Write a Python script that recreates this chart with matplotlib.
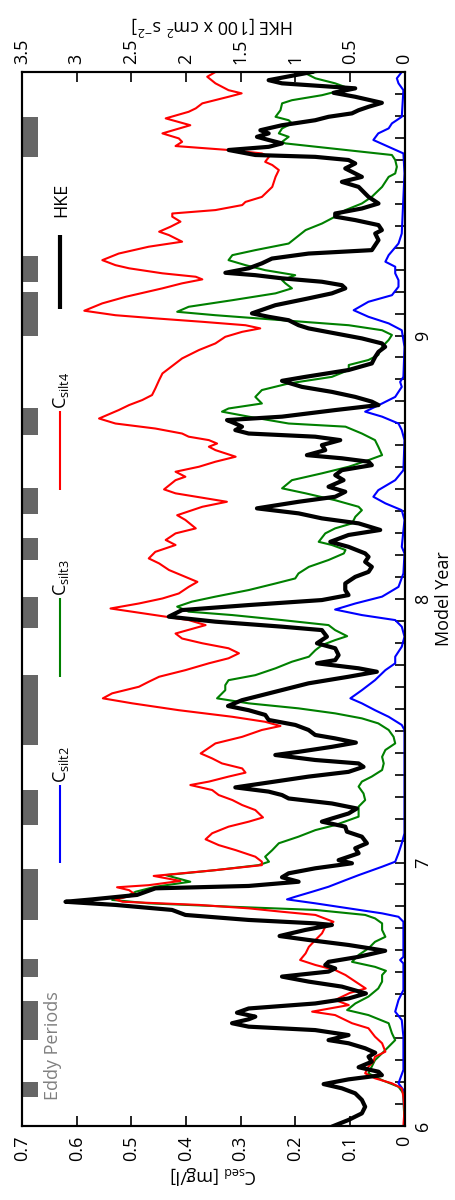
import matplotlib.pyplot as plt
from matplotlib.ticker import MultipleLocator, FixedLocator, FuncFormatter

# model year (descending) and concentration / energy
SILT4_YEAR = [
    10.000, 9.982, 9.957, 9.931, 9.919, 9.906, 9.881, 9.862, 9.849, 9.824,
    9.798, 9.767, 9.748, 9.735, 9.719, 9.704, 9.691, 9.678, 9.659, 9.647,
    9.628, 9.602, 9.564, 9.526, 9.507, 9.495, 9.476, 9.463, 9.451, 9.432,
    9.413, 9.394, 9.381, 9.356, 9.337, 9.311, 9.286, 9.267, 9.255, 9.236,
    9.223, 9.213, 9.198, 9.179, 9.147, 9.122, 9.094, 9.077, 9.065, 9.052,
    9.039, 9.027, 9.014, 8.995, 8.970, 8.945, 8.913, 8.894, 8.875, 8.856,
    8.831, 8.799, 8.774, 8.755, 8.736, 8.717, 8.685, 8.666, 8.647, 8.628,
    8.616, 8.603, 8.590, 8.578, 8.565, 8.540, 8.521, 8.502, 8.483, 8.464,
    8.451, 8.416, 8.401, 8.369, 8.350, 8.318, 8.300, 8.268, 8.249, 8.224,
    8.205, 8.179, 8.154, 8.135, 8.110, 8.084, 8.065, 8.046, 8.021, 8.002,
    7.983, 7.964, 7.939, 7.920, 7.901, 7.869, 7.850, 7.832, 7.813, 7.794,
    7.775, 7.756, 7.730, 7.705, 7.686, 7.667, 7.642, 7.623, 7.604, 7.578,
    7.553, 7.534, 7.518, 7.503, 7.477, 7.452, 7.414, 7.395, 7.376, 7.357,
    7.341, 7.326, 7.307, 7.294, 7.275, 7.256, 7.237, 7.218, 7.199, 7.171,
    7.155, 7.136, 7.111, 7.088, 7.066, 7.047, 7.022, 7.003, 6.990, 6.971,
    6.949, 6.930, 6.914, 6.906, 6.895, 6.877, 6.860, 6.851, 6.839, 6.826,
    6.813, 6.801, 6.775, 6.756, 6.731, 6.706, 6.680, 6.655, 6.630, 6.611,
    6.592, 6.573, 6.548, 6.522, 6.505, 6.478, 6.459, 6.434, 6.421, 6.402,
    6.390, 6.371, 6.339, 6.314, 6.282, 6.263, 6.244, 6.225, 6.200, 6.181,
    6.162, 6.143, 6.111, 6.061, 6.000]
SILT4 = [
    0.346, 0.361, 0.346, 0.322, 0.298, 0.322, 0.370, 0.382, 0.395, 0.437,
    0.392, 0.443, 0.413, 0.407, 0.419, 0.322, 0.261, 0.248, 0.255, 0.242,
    0.230, 0.236, 0.242, 0.261, 0.291, 0.297, 0.346, 0.425, 0.425, 0.410,
    0.428, 0.449, 0.431, 0.407, 0.468, 0.523, 0.553, 0.529, 0.504, 0.443,
    0.382, 0.370, 0.407, 0.443, 0.510, 0.553, 0.586, 0.529, 0.456, 0.370,
    0.291, 0.264, 0.297, 0.328, 0.346, 0.376, 0.407, 0.419, 0.431, 0.443,
    0.449, 0.456, 0.462, 0.480, 0.504, 0.523, 0.559, 0.529, 0.456, 0.407,
    0.395, 0.358, 0.343, 0.358, 0.346, 0.309, 0.346, 0.376, 0.419, 0.401,
    0.419, 0.440, 0.419, 0.325, 0.370, 0.416, 0.401, 0.382, 0.419, 0.437,
    0.419, 0.456, 0.468, 0.449, 0.431, 0.401, 0.379, 0.395, 0.413, 0.443,
    0.486, 0.538, 0.456, 0.395, 0.364, 0.419, 0.407, 0.370, 0.322, 0.303,
    0.322, 0.358, 0.401, 0.449, 0.468, 0.486, 0.535, 0.552, 0.498, 0.413,
    0.315, 0.255, 0.227, 0.261, 0.297, 0.346, 0.373, 0.352, 0.334, 0.297,
    0.291, 0.322, 0.358, 0.392, 0.352, 0.340, 0.315, 0.297, 0.273, 0.259,
    0.285, 0.322, 0.352, 0.364, 0.340, 0.309, 0.273, 0.261, 0.261, 0.346,
    0.459, 0.410, 0.468, 0.526, 0.504, 0.492, 0.529, 0.516, 0.376, 0.285,
    0.224, 0.163, 0.130, 0.145, 0.151, 0.163, 0.175, 0.181, 0.191, 0.163,
    0.127, 0.108, 0.090, 0.071, 0.100, 0.127, 0.102, 0.169, 0.127, 0.108,
    0.096, 0.066, 0.054, 0.041, 0.035, 0.054, 0.057, 0.066, 0.072, 0.054,
    0.023, 0.005, 0.002, 0.000, 0.002]

SILT3_YEAR = [
    10.000, 9.995, 9.976, 9.957, 9.938, 9.912, 9.893, 9.881, 9.855, 9.830,
    9.817, 9.805, 9.786, 9.767, 9.754, 9.735, 9.729, 9.685, 9.666, 9.640,
    9.615, 9.602, 9.564, 9.526, 9.501, 9.476, 9.451, 9.425, 9.400, 9.349,
    9.324, 9.305, 9.286, 9.267, 9.248, 9.229, 9.210, 9.198, 9.179, 9.160,
    9.134, 9.109, 9.090, 9.077, 9.058, 9.039, 9.020, 9.002, 8.983, 8.957,
    8.926, 8.907, 8.888, 8.869, 8.843, 8.818, 8.793, 8.767, 8.742, 8.723,
    8.711, 8.692, 8.666, 8.654, 8.628, 8.603, 8.578, 8.546, 8.527, 8.502,
    8.477, 8.451, 8.420, 8.401, 8.375, 8.350, 8.337, 8.312, 8.287, 8.268,
    8.249, 8.217, 8.205, 8.186, 8.173, 8.148, 8.122, 8.097, 8.078, 8.059,
    8.034, 8.009, 7.990, 7.971, 7.952, 7.939, 7.920, 7.901, 7.882, 7.859,
    7.844, 7.825, 7.806, 7.781, 7.762, 7.737, 7.711, 7.692, 7.673, 7.654,
    7.623, 7.604, 7.585, 7.566, 7.547, 7.528, 7.503, 7.477, 7.452, 7.427,
    7.401, 7.376, 7.351, 7.326, 7.307, 7.288, 7.262, 7.237, 7.212, 7.174,
    7.142, 7.123, 7.098, 7.073, 7.047, 7.022, 7.003, 6.990, 6.971, 6.952,
    6.927, 6.908, 6.889, 6.870, 6.858, 6.845, 6.832, 6.820, 6.801, 6.788,
    6.769, 6.744, 6.718, 6.699, 6.674, 6.649, 6.623, 6.604, 6.589, 6.573,
    6.548, 6.522, 6.491, 6.465, 6.440, 6.421, 6.390, 6.352, 6.326, 6.301,
    6.276, 6.250, 6.225, 6.200, 6.174, 6.149, 6.124, 6.000]
SILT3 = [
    0.160, 0.181, 0.163, 0.127, 0.102, 0.151, 0.206, 0.224, 0.227, 0.236,
    0.212, 0.206, 0.224, 0.230, 0.212, 0.224, 0.218, 0.023, 0.017, 0.014,
    0.017, 0.029, 0.041, 0.060, 0.078, 0.108, 0.127, 0.151, 0.181, 0.212,
    0.273, 0.315, 0.322, 0.291, 0.255, 0.200, 0.224, 0.218, 0.206, 0.236,
    0.315, 0.395, 0.416, 0.346, 0.224, 0.102, 0.041, 0.023, 0.029, 0.041,
    0.048, 0.066, 0.102, 0.102, 0.133, 0.212, 0.261, 0.273, 0.261, 0.322,
    0.334, 0.285, 0.212, 0.108, 0.078, 0.054, 0.048, 0.041, 0.066, 0.102,
    0.151, 0.206, 0.224, 0.181, 0.127, 0.084, 0.078, 0.090, 0.096, 0.127,
    0.145, 0.157, 0.133, 0.108, 0.111, 0.139, 0.175, 0.194, 0.200, 0.236,
    0.285, 0.346, 0.389, 0.416, 0.395, 0.315, 0.224, 0.139, 0.127, 0.105,
    0.127, 0.151, 0.163, 0.175, 0.206, 0.236, 0.273, 0.322, 0.328, 0.328,
    0.343, 0.285, 0.194, 0.127, 0.078, 0.048, 0.029, 0.020, 0.017, 0.035,
    0.041, 0.038, 0.041, 0.060, 0.078, 0.084, 0.075, 0.072, 0.084, 0.084,
    0.127, 0.163, 0.194, 0.230, 0.242, 0.255, 0.248, 0.267, 0.346, 0.437,
    0.392, 0.456, 0.492, 0.510, 0.535, 0.468, 0.315, 0.163, 0.072, 0.054,
    0.041, 0.041, 0.035, 0.054, 0.066, 0.084, 0.096, 0.054, 0.034, 0.041,
    0.041, 0.048, 0.066, 0.090, 0.105, 0.066, 0.029, 0.023, 0.017, 0.029,
    0.041, 0.054, 0.060, 0.066, 0.041, 0.011, 0.002, 0.000]

SILT2_YEAR = [
    10.000, 9.976, 9.957, 9.931, 9.830, 9.805, 9.786, 9.767, 9.742, 9.716,
    9.691, 9.615, 9.387, 9.349, 9.305, 9.280, 9.261, 9.236, 9.210, 9.185,
    9.153, 9.128, 9.096, 9.071, 9.046, 9.020, 8.957, 8.843, 8.824, 8.805,
    8.767, 8.742, 8.711, 8.692, 8.666, 8.641, 8.603, 8.489, 8.451, 8.413,
    8.388, 8.363, 8.337, 8.300, 8.198, 8.173, 8.097, 8.046, 8.009, 7.983,
    7.960, 7.939, 7.920, 7.895, 7.857, 7.819, 7.781, 7.756, 7.730, 7.692,
    7.654, 7.623, 7.604, 7.578, 7.553, 7.522, 7.503, 7.111, 7.073, 7.035,
    7.003, 6.984, 6.952, 6.933, 6.908, 6.889, 6.870, 6.860, 6.845, 6.826,
    6.807, 6.794, 6.775, 6.642, 6.630, 6.617, 6.516, 6.478, 6.434, 6.402,
    6.339, 6.213, 6.162, 6.137, 6.000]
SILT2 = [
    0.005, 0.014, 0.011, 0.002, 0.005, 0.023, 0.029, 0.048, 0.057, 0.029,
    0.002, 0.000, 0.005, 0.011, 0.029, 0.035, 0.017, 0.017, 0.011, 0.011,
    0.023, 0.066, 0.093, 0.066, 0.029, 0.005, 0.000, 0.002, 0.008, 0.005,
    0.017, 0.041, 0.072, 0.041, 0.011, 0.005, 0.000, 0.002, 0.017, 0.048,
    0.057, 0.035, 0.005, 0.000, 0.005, 0.000, 0.002, 0.011, 0.041, 0.090,
    0.127, 0.078, 0.017, 0.005, 0.000, 0.005, 0.017, 0.017, 0.035, 0.054,
    0.078, 0.099, 0.078, 0.054, 0.029, 0.005, 0.000, 0.000, 0.005, 0.011,
    0.017, 0.041, 0.084, 0.108, 0.139, 0.169, 0.200, 0.215, 0.163, 0.102,
    0.041, 0.011, 0.002, 0.002, 0.008, 0.002, 0.002, 0.011, 0.017, 0.005,
    0.002, 0.002, 0.011, 0.002, 0.000]

HKE_YEAR = [
    10.000, 9.969, 9.957, 9.938, 9.921, 9.906, 9.883, 9.868, 9.855, 9.843,
    9.830, 9.817, 9.798, 9.779, 9.767, 9.754, 9.742, 9.729, 9.716, 9.704,
    9.685, 9.678, 9.666, 9.653, 9.634, 9.602, 9.583, 9.564, 9.526, 9.501,
    9.482, 9.463, 9.451, 9.438, 9.419, 9.400, 9.387, 9.362, 9.343, 9.324,
    9.311, 9.292, 9.274, 9.255, 9.238, 9.229, 9.217, 9.204, 9.191, 9.179,
    9.160, 9.141, 9.115, 9.084, 9.071, 9.058, 9.039, 9.027, 9.008, 8.989,
    8.970, 8.957, 8.938, 8.919, 8.894, 8.869, 8.843, 8.828, 8.805, 8.786,
    8.767, 8.749, 8.736, 8.717, 8.692, 8.679, 8.666, 8.654, 8.641, 8.628,
    8.616, 8.603, 8.584, 8.565, 8.546, 8.534, 8.521, 8.508, 8.489, 8.470,
    8.451, 8.426, 8.407, 8.388, 8.369, 8.344, 8.325, 8.306, 8.287, 8.262,
    8.243, 8.217, 8.198, 8.173, 8.160, 8.141, 8.122, 8.103, 8.084, 8.059,
    8.034, 8.015, 7.996, 7.977, 7.958, 7.933, 7.914, 7.895, 7.882, 7.857,
    7.832, 7.813, 7.787, 7.768, 7.756, 7.737, 7.724, 7.705, 7.680, 7.648,
    7.616, 7.594, 7.578, 7.560, 7.541, 7.522, 7.503, 7.484, 7.471, 7.455,
    7.439, 7.420, 7.408, 7.389, 7.376, 7.363, 7.344, 7.326, 7.300, 7.285,
    7.269, 7.256, 7.243, 7.224, 7.205, 7.186, 7.167, 7.155, 7.136, 7.117,
    7.098, 7.073, 7.054, 7.035, 7.009, 6.997, 6.978, 6.959, 6.944, 6.927,
    6.911, 6.902, 6.877, 6.860, 6.851, 6.839, 6.820, 6.801, 6.782, 6.769,
    6.763, 6.744, 6.721, 6.706, 6.687, 6.665, 6.642, 6.623, 6.611, 6.598,
    6.586, 6.567, 6.548, 6.529, 6.503, 6.484, 6.465, 6.446, 6.430, 6.415,
    6.405, 6.390, 6.377, 6.364, 6.345, 6.326, 6.314, 6.295, 6.278, 6.263,
    6.244, 6.223, 6.206, 6.193, 6.177, 6.159, 6.143, 6.124, 6.099, 6.073,
    6.048, 6.023, 6.000]
HKE = [
    0.847, 1.243, 1.121, 0.451, 0.649, 0.451, 0.207, 0.329, 0.420, 0.481,
    0.695, 0.817, 1.121, 1.319, 1.243, 1.350, 1.243, 1.121, 1.243, 1.609,
    1.365, 0.817, 0.512, 0.451, 0.542, 0.390, 0.573, 0.420, 0.329, 0.238,
    0.390, 0.634, 0.634, 0.451, 0.238, 0.207, 0.268, 0.238, 0.268, 0.299,
    0.878, 1.213, 1.304, 1.426, 1.639, 1.365, 1.121, 0.756, 0.573, 0.542,
    0.664, 0.878, 1.182, 1.396, 1.243, 1.060, 0.969, 0.878, 0.634, 0.390,
    0.207, 0.177, 0.238, 0.268, 0.299, 0.512, 0.908, 1.121, 0.938, 0.664,
    0.451, 0.299, 0.238, 0.634, 1.121, 1.624, 1.548, 1.487, 1.548, 1.426,
    0.817, 0.588, 0.756, 0.725, 0.893, 0.573, 0.329, 0.299, 0.573, 0.634,
    0.558, 0.695, 0.542, 0.634, 0.969, 1.350, 0.969, 0.756, 0.420, 0.222,
    0.512, 0.679, 0.512, 0.360, 0.329, 0.360, 0.299, 0.329, 0.451, 0.542,
    0.542, 0.512, 0.756, 1.426, 2.035, 2.157, 1.731, 1.121, 0.756, 0.710,
    0.801, 0.634, 0.603, 0.634, 0.801, 0.420, 0.253, 0.512, 0.878, 1.182,
    1.487, 1.615, 1.426, 1.274, 1.243, 0.999, 0.878, 0.817, 0.634, 0.445,
    0.664, 0.969, 1.182, 0.817, 0.420, 0.375, 0.512, 0.878, 1.304, 1.548,
    1.243, 1.121, 1.060, 0.664, 0.436, 0.512, 0.664, 0.756, 0.542, 0.527,
    0.390, 0.344, 0.451, 0.420, 0.603, 0.481, 0.817, 1.060, 1.121, 0.969,
    1.426, 2.279, 2.447, 2.858, 3.102, 2.645, 2.127, 2.005, 1.426, 0.817,
    0.664, 0.908, 1.143, 0.878, 0.512, 0.177, 0.420, 0.695, 0.725, 0.634,
    0.695, 1.121, 0.878, 0.573, 0.353, 0.512, 0.817, 1.426, 1.533, 1.365,
    1.426, 1.578, 1.426, 0.817, 0.512, 0.695, 0.512, 0.360, 0.268, 0.329,
    0.299, 0.420, 0.238, 0.207, 0.512, 0.740, 0.573, 0.451, 0.390, 0.360,
    0.390, 0.512, 0.650]

EDDY_START = [6.110, 6.326, 6.565, 6.782, 7.142, 7.446, 7.890, 8.148, 8.323,
              8.622, 8.998, 9.203, 9.677]
EDDY_END = [6.167, 6.474, 6.634, 6.975, 7.275, 7.712, 8.008, 8.231, 8.421,
            8.725, 9.165, 9.302, 9.829]

LABELS = [r'C$_{\rm silt2}$', r'C$_{\rm silt3}$', r'C$_{\rm silt4}$', 'HKE']
COLORS = ['#0000ff', '#008000', '#ff0000', 'k']


def main():
    plt.rcParams['font.family'] = ['Open Sans', 'DejaVu Sans']
    plt.rcParams['mathtext.fontset'] = 'custom'
    plt.rcParams['mathtext.rm'] = 'Open Sans'
    plt.rcParams['mathtext.it'] = 'Open Sans:italic'
    plt.rcParams['mathtext.bf'] = 'Open Sans:bold'
    plt.rcParams['font.size'] = 13

    fig = plt.figure(figsize=(4.55, 12), dpi=100)
    ax = fig.add_axes([22 / 455, 74 / 1200, 382.5 / 455, 1054 / 1200])
    ax.set_xlim(0.7, 0)
    ax.set_ylim(6, 10)

    # eddy periods as grey blocks along the upper (left) edge
    heights = [e - s for s, e in zip(EDDY_START, EDDY_END)]
    ax.barh(EDDY_START, 0.03, height=heights, left=0.67, align='edge',
            color='#666666', linewidth=0)
    ax.text(0.644, 6.10, 'Eddy Periods', rotation=90, ha='center',
            va='bottom', color='#808080', fontsize=13)

    ax.plot(SILT2, SILT2_YEAR, color=COLORS[0], lw=1.5)
    ax.plot(SILT3, SILT3_YEAR, color=COLORS[1], lw=1.5)
    ax.plot(SILT4, SILT4_YEAR, color=COLORS[2], lw=1.5)

    # hand made legend, rotated like the rest of the chart
    spans = [(6.998, 7.294), (7.704, 8.004), (8.414, 8.713), (9.100, 9.381)]
    text_at = [7.30, 8.012, 8.72, 9.45]
    for i, label in enumerate(LABELS):
        lw = 3 if label == 'HKE' else 1.5
        ax.plot([0.63, 0.63], spans[i], color=COLORS[i], lw=lw,
                solid_capstyle='butt')
        ax.text(0.628, text_at[i], label, rotation=90, ha='center',
                va='bottom', fontsize=13)

    ax.xaxis.set_major_locator(MultipleLocator(0.1))
    ax.xaxis.set_major_formatter(FuncFormatter(lambda v, p: f'{v:g}'))
    ax.tick_params(axis='x', direction='in', length=7, width=1.2, pad=7,
                   labelrotation=90, bottom=True, top=False)
    ax.set_xlabel(r'C$_{\rm sed}$ [mg/l]', rotation=180, labelpad=2)

    ax.yaxis.tick_right()
    ax.yaxis.set_label_position('right')
    ax.yaxis.set_major_locator(FixedLocator([6, 7, 8, 9]))
    ax.yaxis.set_minor_locator(MultipleLocator(1 / 12))
    ax.tick_params(axis='y', which='both', direction='in', length=7,
                   width=1.2, left=False, right=True, labelleft=False,
                   labelright=True)
    ax.tick_params(axis='y', labelrotation=90, pad=7)
    plt.setp(ax.get_yticklabels(), va='center')
    ax.set_ylabel('Model Year', labelpad=2)

    ax2 = ax.twiny()
    ax2.set_xlim(3.5, 0)
    ax2.plot(HKE, HKE_YEAR, color='k', lw=3)
    ax2.xaxis.set_major_locator(MultipleLocator(0.5))
    ax2.xaxis.set_major_formatter(FuncFormatter(lambda v, p: f'{v:g}'))
    ax2.tick_params(axis='x', direction='in', length=7, width=1.2, pad=6,
                    labelrotation=90)
    ax2.set_xlabel(r'HKE [100 x cm$^{2}$ s$^{-2}$]', rotation=180,
                   labelpad=4)

    for a in (ax, ax2):
        for s in a.spines.values():
            s.set_linewidth(1.5)

    fig.savefig('out.png', dpi=100)


if __name__ == '__main__':
    main()
